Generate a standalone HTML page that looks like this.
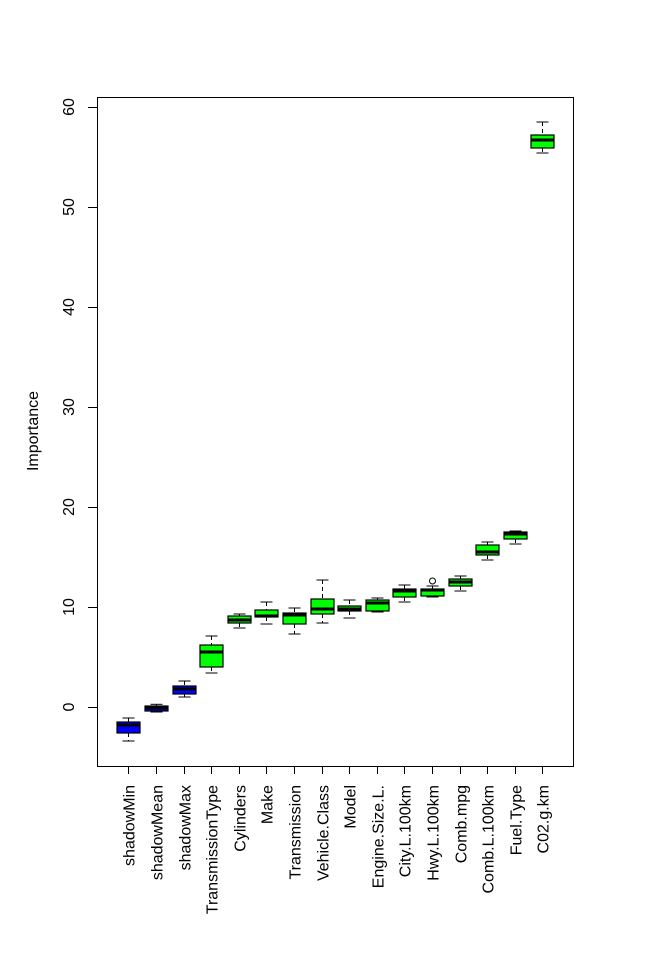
<!DOCTYPE html>
<html><head><meta charset="utf-8"><style>
html,body{margin:0;padding:0;background:#fff}
svg{display:block;font-family:"Liberation Sans",Arial,sans-serif}
</style></head><body>
<svg id="chart" width="672" height="960" viewBox="0 0 672 960" xmlns="http://www.w3.org/2000/svg">
<rect x="97.5" y="97.5" width="476" height="669" fill="none" stroke="#000" stroke-width="1"/>
<text transform="translate(38,431) rotate(-90)" text-anchor="middle" font-size="16">Importance</text>
<g id="yaxis"></g>
<g id="boxes"></g>
<g id="xlabels"></g>
</svg>
<script>
const categories = ["shadowMin","shadowMean","shadowMax","TransmissionType","Cylinders","Make","Transmission","Vehicle.Class","Model","Engine.Size.L.","City.L.100km","Hwy.L.100km","Comb.mpg","Comb.L.100km","Fuel.Type","C02.g.km"];
const whiskerLow = [-3.4,-0.5,1.0,3.4,7.9,8.3,7.3,8.4,8.9,9.5,10.5,11.0,11.6,14.7,16.3,55.4];
const q1 = [-2.6,-0.4,1.3,4.0,8.4,9.0,8.3,9.3,9.6,9.6,11.0,11.1,12.1,15.2,16.8,55.9];
const median = [-1.8,-0.1,1.8,5.5,8.7,9.1,9.2,9.8,9.8,10.4,11.6,11.7,12.5,15.5,17.3,56.7];
const q3 = [-1.5,0.1,2.1,6.2,9.1,9.7,9.4,10.8,10.1,10.7,11.8,11.8,12.8,16.2,17.5,57.2];
const whiskerHigh = [-1.1,0.27,2.6,7.1,9.3,10.5,9.9,12.7,10.7,10.9,12.2,12.1,13.1,16.5,17.6,58.5];
const boxColors = ["blue","blue","blue","green","green","green","green","green","green","green","green","green","green","green","green","green"];
const outlierCat = [11];
const outlierVal = [12.6];
const yTicks = [0,10,20,30,40,50,60];

const NS="http://www.w3.org/2000/svg";
const y = v => 707 - v*10;
const x = i => 97 + (i + 1 + 0.14) * 27.6;
function mk(tag, attrs, parent){const e=document.createElementNS(NS,tag);for(const k in attrs)e.setAttribute(k,attrs[k]);parent.appendChild(e);return e;}
const yax=document.getElementById('yaxis');
yTicks.forEach(t=>{
  const l=mk('line',{x1:88,x2:97.5,y1:y(t)+0.5,y2:y(t)+0.5,stroke:'#000'},yax);
  
  
  const tx=mk('text',{transform:`translate(74,${y(t)}) rotate(-90)`,'text-anchor':'middle','font-size':'16'},yax);
  tx.textContent=t;
  
  
});
const bx=document.getElementById('boxes');
const xl=document.getElementById('xlabels');
const fills={blue:'#0000ff',green:'#00ff00'};
categories.forEach((c,i)=>{
  const cx=Math.round(x(i))+0.5, hw=11.5, cw=6;
  const g=mk('g',{},bx);
  
  
  mk('line',{x1:cx,x2:cx,y1:y(whiskerHigh[i]),y2:y(q3[i]),stroke:'#000','stroke-dasharray':'4,3'},g);
  mk('line',{x1:cx,x2:cx,y1:y(q1[i]),y2:y(whiskerLow[i]),stroke:'#000','stroke-dasharray':'4,3'},g);
  mk('line',{x1:cx-cw,x2:cx+cw,y1:y(whiskerHigh[i]),y2:y(whiskerHigh[i]),stroke:'#000'},g);
  mk('line',{x1:cx-cw,x2:cx+cw,y1:y(whiskerLow[i]),y2:y(whiskerLow[i]),stroke:'#000'},g);
  mk('rect',{x:cx-hw,y:y(q3[i]),width:hw*2,height:Math.max(1,y(q1[i])-y(q3[i])),fill:fills[boxColors[i]],stroke:'#000','stroke-width':1.2},g);
  mk('line',{x1:cx-hw,x2:cx+hw,y1:y(median[i]),y2:y(median[i]),stroke:'#000','stroke-width':3},g);
  const tk=mk('line',{x1:cx,x2:cx,y1:767,y2:774,stroke:'#000'},xl);
  
  
  const lbl=mk('text',{transform:`translate(${cx+6},785) rotate(-90)`,'text-anchor':'end','font-size':'16'},xl);
  lbl.textContent=c;
  
  
});
outlierCat.forEach((ci,k)=>{
  const o=mk('circle',{cx:Math.round(x(ci))+0.5,cy:y(outlierVal[k]),r:3,fill:'none',stroke:'#000'},bx);
  
  
});
</script>
</body></html>
